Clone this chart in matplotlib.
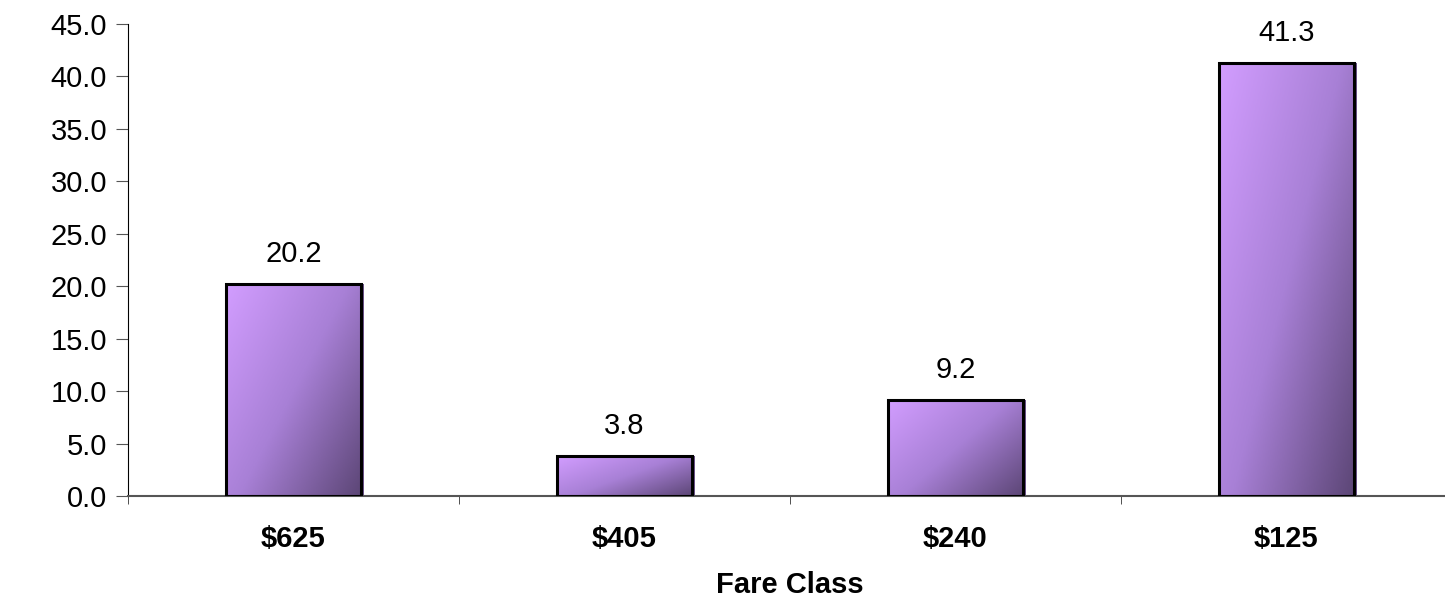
import matplotlib.pyplot as plt
import numpy as np
from matplotlib.colors import LinearSegmentedColormap

plt.rcParams['font.family'] = ['Liberation Sans', 'DejaVu Sans']

fares = ['$625', '$405', '$240', '$125']
values = [20.2, 3.8, 9.2, 41.3]
yticks = [0, 5, 10, 15, 20, 25, 30, 35, 40, 45]

# light violet top-left fading to dark purple bottom-right
cmap = LinearSegmentedColormap.from_list('fare', ['#d29dff', '#a880d6', '#5c4676'])

fig = plt.figure(figsize=(14.45, 6.03), dpi=100)
ax = fig.add_axes([0.0885, 0.1774, 0.9163, 0.7828])

x = np.arange(len(fares))
bars = ax.bar(x, values, width=0.41, facecolor='none', edgecolor='black',
              linewidth=2.2, zorder=3)

u, v = np.meshgrid(np.linspace(0, 1, 80), np.linspace(0, 1, 200))
grad = 0.55 * u + 0.45 * v
for b in bars:
    x0, y0 = b.get_x(), b.get_y()
    w, h = b.get_width(), b.get_height()
    # thin dark shadow on the right side
    ax.bar(x0 + w / 2 + 0.008, h, width=w, color='#6a5288', zorder=1)
    im = ax.imshow(grad, cmap=cmap, vmin=0, vmax=1, origin='upper',
                   extent=[x0, x0 + w, y0, y0 + h], aspect='auto', zorder=2)
    im.set_clip_path(b)
    ax.text(x0 + w / 2, h + 1.5, f'{h:.1f}', ha='center', va='bottom',
            fontsize=21, color='black')

ax.set_xlim(-0.5, 3.5)
ax.set_ylim(0, 45)
ax.set_yticks(yticks)
ax.set_yticklabels([f'{t:.1f}' for t in yticks], fontsize=21)
ax.set_xticks(x)
ax.set_xticklabels(fares, fontsize=21, fontweight='bold')
ax.set_xticks(np.arange(-0.5, 3.6, 1.0), minor=True)
ax.tick_params(axis='x', which='major', length=0, pad=21)
ax.tick_params(axis='x', which='minor', length=6, color='#333333')
ax.tick_params(axis='y', length=9, color='#555555', pad=6)
ax.set_xlabel('Fare Class', fontsize=21, fontweight='bold', labelpad=13)

for s in ['top', 'right']:
    ax.spines[s].set_visible(False)
ax.spines['left'].set_color('black')
ax.spines['bottom'].set_color('#555555')
ax.spines['bottom'].set_linewidth(1.5)

fig.savefig('out.png', dpi=100)
